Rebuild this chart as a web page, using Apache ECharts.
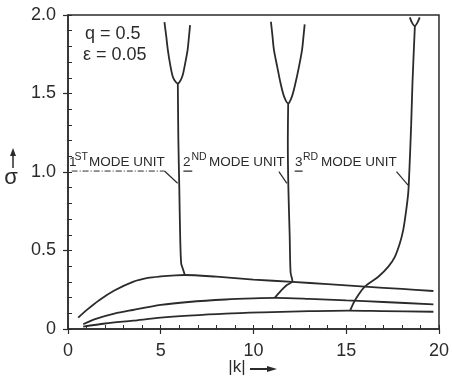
<!DOCTYPE html>
<html>
<head>
<meta charset="utf-8">
<script src="https://cdn.jsdelivr.net/npm/echarts@6/dist/echarts.min.js"></script>
<style>
  html, body { margin: 0; padding: 0; background: #fff; }
  #main { width: 452px; height: 378px; }
</style>
</head>
<body>
<div id="main"></div>
<script type="text/javascript">
    // lower branches (sigma vs |k|)
    var kA = [0.55, 1.0, 1.7, 2.5, 3.5, 4.3, 5.0, 5.8, 6.3, 8.0, 10.0, 12.1, 14.0, 16.0, 18.0, 19.7];
    var sA = [0.072, 0.12, 0.185, 0.245, 0.30, 0.325, 0.335, 0.342, 0.344, 0.333, 0.315, 0.30, 0.286, 0.27, 0.255, 0.242];
    var kB = [0.82, 1.5, 2.5, 3.5, 5.0, 6.5, 8.5, 10.0, 11.2, 13.0, 15.0, 17.0, 19.7];
    var sB = [0.03, 0.065, 0.098, 0.121, 0.153, 0.172, 0.188, 0.195, 0.198, 0.192, 0.182, 0.172, 0.157];
    var kC = [0.82, 2.0, 3.5, 5.0, 6.5, 8.5, 10.5, 12.5, 15.1, 17.0, 19.7];
    var sC = [0.015, 0.035, 0.053, 0.072, 0.085, 0.098, 0.106, 0.112, 0.117, 0.114, 0.11];

    // mode unit branches
    var kStem1 = [6.3, 6.2, 6.1, 6.04, 6.0, 5.95, 5.92];
    var sStem1 = [0.344, 0.38, 0.42, 0.63, 0.9, 1.2, 1.565];
    var kU1 = [5.2, 5.3, 5.38, 5.5, 5.65, 5.8, 5.92, 6.05, 6.19, 6.33, 6.45, 6.52, 6.58];
    var sU1 = [1.955, 1.86, 1.78, 1.69, 1.607, 1.575, 1.565, 1.58, 1.62, 1.7, 1.78, 1.86, 1.935];

    var kStem2 = [11.15, 11.3, 11.51, 11.8, 12.1, 12.0, 11.95, 11.88, 11.85, 11.87];
    var sStem2 = [0.2, 0.22, 0.248, 0.28, 0.305, 0.36, 0.6, 0.9, 1.2, 1.437];
    var kU2 = [10.94, 11.02, 11.1, 11.28, 11.46, 11.65, 11.87, 12.07, 12.26, 12.45, 12.62, 12.7, 12.76];
    var sU2 = [1.957, 1.87, 1.78, 1.67, 1.565, 1.48, 1.437, 1.48, 1.565, 1.67, 1.78, 1.87, 1.94];

    var kStem3 = [15.21, 15.48, 16.0, 16.73, 17.27, 17.62, 17.89, 18.07, 18.21, 18.34, 18.4, 18.5, 18.57, 18.7];
    var sStem3 = [0.117, 0.185, 0.27, 0.333, 0.397, 0.46, 0.546, 0.63, 0.737, 0.864, 1.0, 1.3, 1.565, 1.93];
    var kU3 = [18.43, 18.55, 18.7, 18.83, 18.96];
    var sU3 = [1.985, 1.95, 1.93, 1.95, 1.985];

    // label leaders / underlines (data coords)
    var underline1 = [[0.2, 1.006], [5.2, 1.006]];
    var leader1 = [[5.2, 1.006], [5.91, 0.928]];
    var underline2 = [[6.22, 1.006], [6.7, 1.006]];
    var leader2 = [[11.37, 1.002], [11.8, 0.928]];
    var underline3 = [[12.22, 1.006], [12.65, 1.006]];
    var leader3 = [[17.71, 1.002], [18.33, 0.917]];

    var xTicks = [0, 5, 10, 15, 20];
    var yTicks = [0, 0.5, 1.0, 1.5, 2.0];

    var ink = '#2b2b2b';
    var font = 'Liberation Sans';

    var myChart = echarts.init(document.getElementById('main'));

    function pairs(k, s) {
        return k.map(function (v, i) { return [v, s[i]]; });
    }
    function curve(data, width, type) {
        return {
            type: 'line', data: data, showSymbol: false, smooth: 0.3, silent: true,
            xAxisIndex: 0, yAxisIndex: 0,
            lineStyle: { color: ink, width: width || 1.8, type: type || 'solid' }
        };
    }
    function txt(x, y, s, size) {
        return { type: 'text', x: x, y: y, style: { text: s, fontSize: size, fill: ink, fontFamily: font, verticalAlign: 'middle' } };
    }

    var seriesList = [
        curve(pairs(kA, sA)), curve(pairs(kB, sB)), curve(pairs(kC, sC)),
        curve(pairs(kStem1, sStem1)), curve(pairs(kU1, sU1)),
        curve(pairs(kStem2, sStem2)), curve(pairs(kU2, sU2)),
        curve(pairs(kStem3, sStem3)), curve(pairs(kU3, sU3)),
        curve(underline1, 1, [6, 2, 1, 2]), curve(leader1, 1.2),
        curve(underline2, 1.2), curve(leader2, 1.2),
        curve(underline3, 1.2), curve(leader3, 1.2)
    ];

    var axisLineStyle = { color: ink, width: 1.5 };

    option = {
        animation: false,
        backgroundColor: '#fff',
        grid: { left: 68, right: 11, top: 15, bottom: 49, show: true, borderColor: ink, borderWidth: 1.5 },
        xAxis: [{
            type: 'value', min: xTicks[0], max: xTicks[xTicks.length - 1], interval: 5, position: 'bottom',
            axisLine: { lineStyle: axisLineStyle },
            axisTick: { inside: false, length: 5, lineStyle: { color: ink, width: 1.2 } },
            axisLabel: { fontSize: 18, color: ink, margin: 13, fontFamily: font },
            splitLine: { show: false }
        }, {
            type: 'value', min: 0, max: 20, interval: 1, position: 'bottom',
            axisLine: { show: false },
            axisTick: { inside: true, length: 4, lineStyle: { color: ink, width: 1 } },
            axisLabel: { show: false },
            splitLine: { show: false }
        }],
        yAxis: [{
            type: 'value', min: yTicks[0], max: yTicks[yTicks.length - 1], interval: 0.5, position: 'left',
            axisLine: { show: true, lineStyle: axisLineStyle },
            axisTick: { show: true, inside: false, length: 5, lineStyle: { color: ink, width: 1.2 } },
            axisLabel: {
                fontSize: 18, color: ink, margin: 12, fontFamily: font,
                formatter: function (v) { return v === 0 ? '0' : v.toFixed(1); }
            },
            splitLine: { show: false }
        }, {
            type: 'value', min: 0, max: 2, interval: 0.1, position: 'left',
            axisLine: { show: false },
            axisTick: { show: true, inside: true, length: 4, lineStyle: { color: ink, width: 1 } },
            axisLabel: { show: false },
            splitLine: { show: false }
        }],
        graphic: [
            { type: 'text', left: 85, top: 25, style: { text: 'q = 0.5', fontSize: 18, fill: ink, fontFamily: font } },
            { type: 'text', left: 83, top: 46, style: { text: 'ε = 0.05', fontSize: 18, fill: ink, fontFamily: font } },

            txt(69, 162, '1', 13.5), txt(74.5, 157, 'ST', 10.5), txt(89, 162, 'MODE UNIT', 13.5),
            txt(183, 162, '2', 13.5), txt(191.5, 157, 'ND', 10.5), txt(209, 162, 'MODE UNIT', 13.5),
            txt(295, 162, '3', 13.5), txt(303, 157, 'RD', 10.5), txt(321, 162, 'MODE UNIT', 13.5),

            // sigma with up arrow
            { type: 'text', x: 11, y: 178, style: { text: 'σ', fontSize: 22, fill: ink, fontFamily: font, align: 'center', verticalAlign: 'middle' } },
            { type: 'line', shape: { x1: 13, y1: 168, x2: 13, y2: 154 }, style: { stroke: ink, lineWidth: 1.5 } },
            { type: 'polygon', shape: { points: [[10, 156], [16, 156], [13, 148]] }, style: { fill: ink } },

            // |k| with right arrow
            { type: 'text', x: 237, y: 367, style: { text: '|k|', fontSize: 17, fill: ink, fontFamily: font, align: 'center', verticalAlign: 'middle' } },
            { type: 'line', shape: { x1: 250, y1: 369, x2: 270, y2: 369 }, style: { stroke: ink, lineWidth: 2 } },
            { type: 'polygon', shape: { points: [[267, 366], [267, 372], [277, 369]] }, style: { fill: ink } }
        ],
        series: seriesList
    };

    myChart.setOption(option);
</script>
</body>
</html>
